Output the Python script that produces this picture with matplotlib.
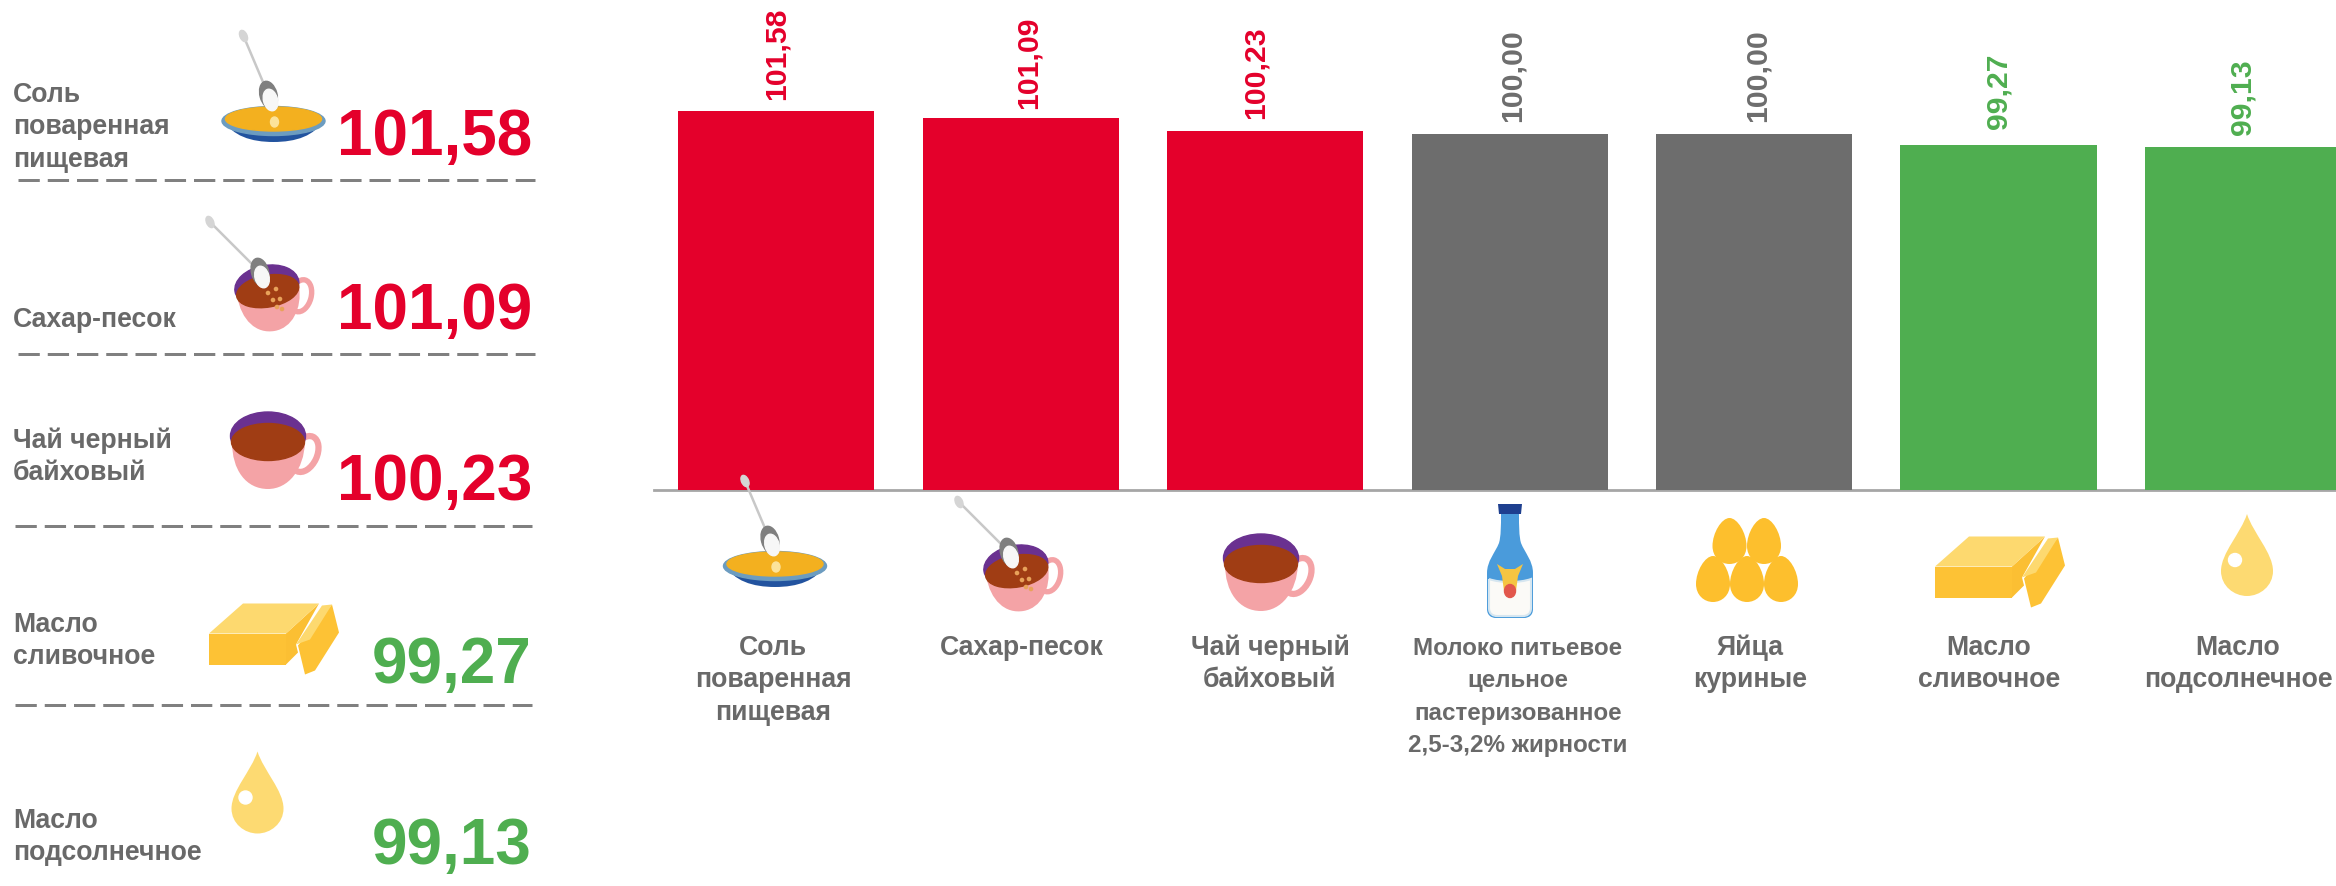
import matplotlib
matplotlib.use('Agg')
import matplotlib.pyplot as plt
from matplotlib.patches import Ellipse, Circle, PathPatch, Polygon
from matplotlib.path import Path
from matplotlib.transforms import Affine2D

plt.rcParams['font.family'] = ['Liberation Sans', 'DejaVu Sans']
plt.rcParams['font.weight'] = 'bold'

# data
categories = ['Соль\nповаренная\nпищевая', 'Сахар-песок', 'Чай черный\nбайховый',
              'Молоко питьевое\nцельное\nпастеризованное\n2,5-3,2% жирности',
              'Яйца\nкуриные', 'Масло\nсливочное', 'Масло\nподсолнечное']
values = [101.58, 101.09, 100.23, 100.00, 100.00, 99.27, 99.13]
top_names = ['Соль\nповаренная\nпищевая', 'Сахар-песок', 'Чай черный\nбайховый',
             'Масло\nсливочное', 'Масло\nподсолнечное']
top_values = [101.58, 101.09, 100.23, 99.27, 99.13]

RED = '#E4002B'
GREY = '#6D6D6D'
GREEN = '#4FAE50'
TXT = '#696969'
W, H = 2336, 887


def col(v):
    if v > 100:
        return RED
    if v < 100:
        return GREEN
    return GREY


def fmt(v):
    return f'{v:.2f}'.replace('.', ',')


fig = plt.figure(figsize=(W / 100, H / 100), dpi=100)

# bars
ax = fig.add_axes([654 / W, (H - 490.5) / H, 1 - 654 / W, 490.5 / H])
x = list(range(len(values)))
ax.bar(x, values, width=0.803, color=[col(v) for v in values], zorder=3)
ax.set_xlim(-0.5, 6.38)
ax.set_ylim(75.65, 109.25)
for s in ['top', 'left', 'right']:
    ax.spines[s].set_visible(False)
ax.spines['bottom'].set_color('#A6A6A6')
ax.spines['bottom'].set_linewidth(2)
ax.set_xticks([])
ax.set_yticks([])
ax.patch.set_alpha(0)

# nudge of the value labels, px
label_dx = [0, 8, -10, 3, 3, 0, -1]
label_dy = [12, 10, 13, 13, 13, 17, 12.5]
for i, v in enumerate(values):
    ax.annotate(fmt(v), (i, v), xytext=(label_dx[i] * 0.72, label_dy[i] * 0.72),
                textcoords='offset points', rotation=90, ha='center', va='bottom',
                color=col(v), fontsize=21.7, annotation_clip=False)

# overlay in pixels, for icons and text
ov = fig.add_axes([0, 0, 1, 1], zorder=5)
ov.set_xlim(0, W)
ov.set_ylim(H, 0)
ov.axis('off')


def place(cx, cy, s=1.0, rot=0):
    return Affine2D().rotate_deg(rot).scale(s).translate(cx, cy) + ov.transData


def bez(points):
    # first point, then triples of bezier controls
    codes = [Path.MOVETO] + [Path.CURVE4] * (len(points) - 1)
    return Path(points, codes)


def spoon(tr, tip, head):
    ov.plot([tip[0], head[0]], [tip[1], head[1]], color='#C8C8C8', lw=1.8, transform=tr, zorder=8)
    ov.add_patch(Ellipse(tip, 7, 12, angle=-25, color='#D5D5D5', transform=tr, zorder=8))
    ov.add_patch(Ellipse(head, 17, 28, angle=-15, color='#7F7F7F', transform=tr, zorder=8))
    ov.add_patch(Ellipse((head[0] + 2, head[1] + 5), 14, 22, angle=-15, color='#F7F7F7', transform=tr, zorder=9))


def bowl(cx, cy):
    tr = place(cx, cy)
    ov.add_patch(PathPatch(bez([(-50, -5), (-42, 12), (-22, 18), (0, 18), (22, 18), (42, 12), (50, -5), (0, -5), (0, -5), (-50, -5)]),
                           fc='#22539F', ec='none', transform=tr, zorder=6))
    ov.add_patch(Ellipse((0, -3), 103, 29, color='#6C9CC0', transform=tr, zorder=7))
    ov.add_patch(Ellipse((0, -5), 96, 24, color='#F3B01F', transform=tr, zorder=7))
    ov.add_patch(Ellipse((1, -2), 8, 10, color='#FCE39A', transform=tr, zorder=7))
    spoon(tr, (-30, -88), (-5, -29))


def cup(cx, cy, s=1.0, rot=0):
    tr = place(cx, cy, s, rot)
    ov.add_patch(Ellipse((31, 4), 24, 38, angle=25, fc='none', ec='#F4A3A6', lw=4.5 * s, transform=tr, zorder=6))
    ov.add_patch(Ellipse((-6, -14), 75, 48, color='#6A3190', transform=tr, zorder=7))
    ov.add_patch(PathPatch(bez([(-42, -8), (-42, 20), (-28, 39), (-6, 39), (14, 39), (30, 20), (31, -8), (0, -8), (-20, -8), (-42, -8)]),
                           fc='#F4A3A6', ec='none', transform=tr, zorder=7))
    ov.add_patch(Ellipse((-6, -8), 73, 37, color='#A03D14', transform=tr, zorder=8))
    return tr


def sugar_cup(cx, cy):
    tr = cup(cx, cy, 0.86, -10)
    t0 = place(cx, cy)
    for dx, dy in [(-6, -4), (2, -8), (-1, 3), (6, 2), (3, 10), (8, 12)]:
        ov.add_patch(Circle((dx, dy), 1.6, color='#E8A25A', transform=t0, zorder=9))
    spoon(t0, (-64, -75), (-14, -25))


def bottle(cx, cy):
    tr = place(cx, cy)
    body = [(-9, -47), (-9, -35), (-9, -25), (-11, -18), (-15, -8), (-23, 0), (-23, 12),
            (-23, 25), (-23, 40), (-23, 48), (-23, 54), (-19, 57), (-14, 57),
            (-5, 57), (5, 57), (14, 57), (19, 57), (23, 54), (23, 48),
            (23, 40), (23, 25), (23, 12), (23, 0), (15, -8), (11, -18),
            (9, -25), (9, -35), (9, -47), (3, -47), (-3, -47), (-9, -47)]
    ov.add_patch(PathPatch(bez(body), fc='#4A9BDB', ec='none', transform=tr, zorder=6))
    milk = [(-21, 18), (-10, 22), (10, 22), (21, 18), (21, 30), (21, 42), (21, 47),
            (21, 53), (17, 55), (13, 55), (5, 55), (-5, 55), (-13, 55),
            (-17, 55), (-21, 53), (-21, 47), (-21, 42), (-21, 30), (-21, 18)]
    ov.add_patch(PathPatch(bez(milk), fc='#FBFAF7', ec='#D6E6F0', lw=1.5, transform=tr, zorder=7))
    ov.add_patch(Polygon([(-12, -57), (12, -57), (11, -47), (-11, -47)], closed=True, fc='#1E3F8F', ec='none', transform=tr, zorder=7))
    ov.add_patch(Polygon([(-13, 3), (-5, 8), (5, 8), (13, 3), (8, 15), (6, 30), (-6, 30), (-8, 15)], closed=True,
                         fc='#F5C542', ec='none', transform=tr, zorder=8))
    ov.add_patch(Ellipse((0, 30), 11, 13, color='#E2574C', transform=tr, zorder=9))


def eggs(cx, cy):
    tr = place(cx, cy)
    egg = [(0, -23), (8, -23), (17, -8), (17, 5), (17, 16), (9, 23), (0, 23), (-9, 23), (-17, 16), (-17, 5), (-17, -8), (-8, -23), (0, -23)]
    for dx, dy in [(-17.5, -19), (17, -19), (-34, 19), (0, 19), (34, 19)]:
        pts = [(a + dx, b + dy) for a, b in egg]
        ov.add_patch(PathPatch(bez(pts), fc='#FDBF2D', ec='none', transform=tr, zorder=6))


def butter(cx, cy):
    tr = place(cx, cy)
    ov.add_patch(Polygon([(45, -35), (12, -5), (12, 26), (24, 14), (22, 6)], closed=True, fc='#FBBF33', ec='none', transform=tr, zorder=6))
    ov.add_patch(Polygon([(-65, -5), (12, -5), (12, 26), (-65, 26)], closed=True, fc='#FDC235', ec='none', transform=tr, zorder=6))
    ov.add_patch(Polygon([(-31, -35), (45, -35), (12, -5), (-65, -5)], closed=True, fc='#FDD96F', ec='none', transform=tr, zorder=6))
    ov.add_patch(Polygon([(58, -34), (65, -6), (41, 32), (31, 36), (24, 7)], closed=True, fc='#FDC235', ec='none', transform=tr, zorder=6))
    ov.add_patch(Polygon([(48, -33), (58, -34), (36, 1), (22, 6)], closed=True, fc='#FDD96F', ec='none', transform=tr, zorder=7))


def drop(cx, cy):
    tr = place(cx, cy)
    pts = [(0, -41), (6, -22), (26, -2), (26, 16), (26, 31), (13, 41), (0, 41), (-13, 41), (-26, 31), (-26, 16), (-26, -2), (-6, -22), (0, -41)]
    ov.add_patch(PathPatch(bez(pts), fc='#FDDA72', ec='none', transform=tr, zorder=6))
    ov.add_patch(Circle((-12, 5), 6.5, color='white', transform=tr, zorder=7))


# icons under the bars
bowl(775, 570)
sugar_cup(1023, 578)
cup(1267, 573)
bottle(1510, 562)
eggs(1747, 561)
butter(2000, 572.5)
drop(2247, 556)

# icons in the left column
bowl(273.5, 125)
sugar_cup(274, 298)
cup(274, 451)
butter(274, 639.5)
drop(257.5, 793.5)

# category labels
label_x = [773, 1022, 1270, 1518, 1750, 1989, 2238]
for i, name in enumerate(categories):
    lines = name.split('\n')
    fs = 17.4 if len(lines) == 4 else 19.2
    for j, line in enumerate(lines):
        ov.text(label_x[i], 655 + j * 32.4, line, ha='center', va='baseline', color=TXT, fontsize=fs, zorder=10)

# left column
name_y = [102, 326.7, 448, 631.7, 828]
value_y = [155, 329, 500, 683, 864]
for i, name in enumerate(top_names):
    for j, line in enumerate(name.split('\n')):
        ov.text(13, name_y[i] + j * 32.4, line, ha='left', va='baseline', color=TXT, fontsize=19.2, zorder=10)
    ov.text(532, value_y[i], fmt(top_values[i]), ha='right', va='baseline', color=col(top_values[i]), fontsize=46, zorder=10)

# dashed rows
sep_y = [180.7, 355, 527, 705.7]
sep_x = [(18, 535), (18, 535), (14.5, 532), (14.5, 532)]
for y, (a, b) in zip(sep_y, sep_x):
    ov.plot([a, b], [y, y], color='#808080', lw=2.16, dashes=(7.1, 2.65), dash_capstyle='butt', zorder=4)

fig.savefig('out.png', dpi=100)
